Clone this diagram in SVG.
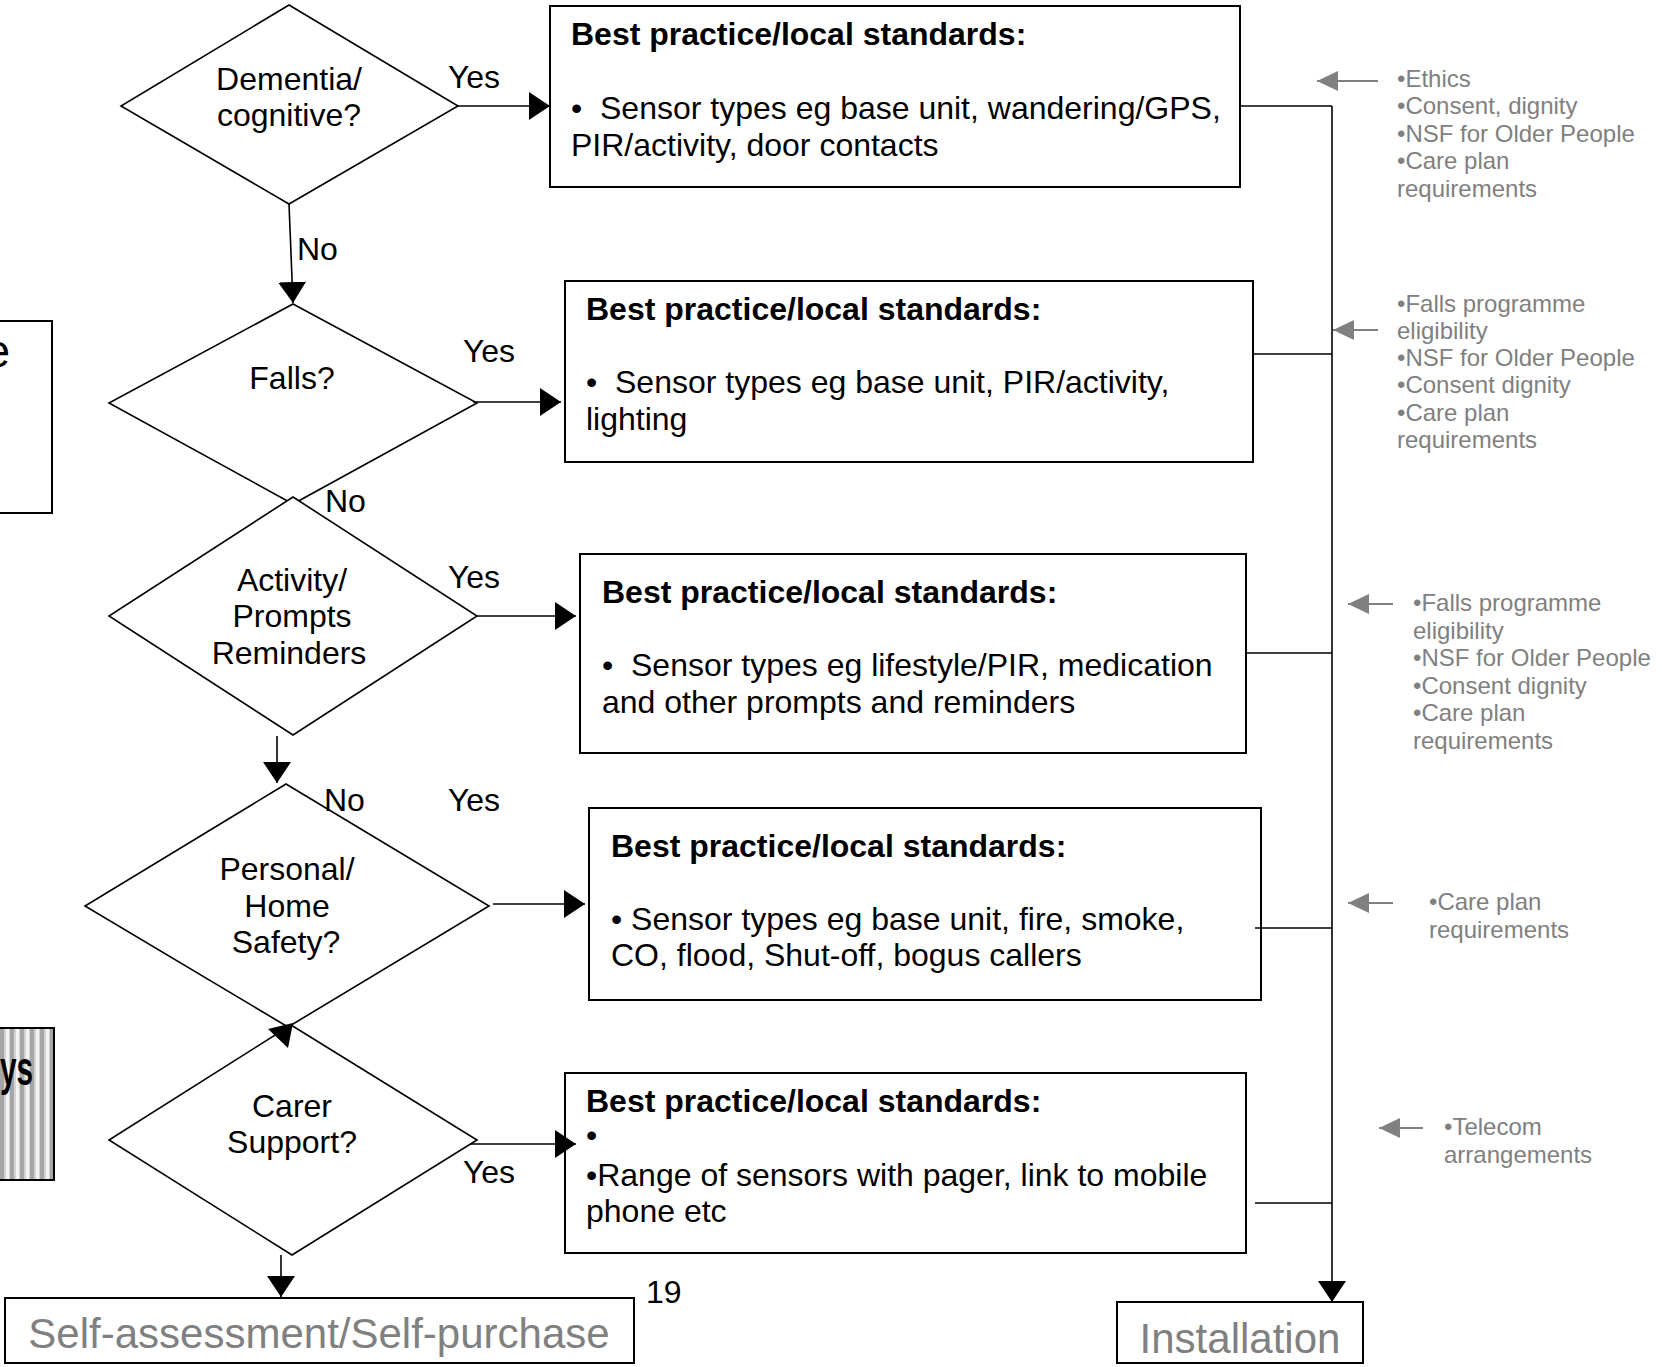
<svg xmlns="http://www.w3.org/2000/svg" width="1662" height="1367" viewBox="0 0 1662 1367">
<style>
text{font-family:"Liberation Sans",Arial,sans-serif;fill:#000}
.t{font-size:32px}
.b{font-size:32px;font-weight:bold}
.g{font-size:24px;fill:#808080}
.big{font-size:42px;fill:#808080}
.c{text-anchor:middle}
.box{fill:#fff;stroke:#000;stroke-width:2}
.dia{fill:#fff;stroke:#000;stroke-width:1.6}
.ln{fill:none;stroke:#000;stroke-width:1.6}
.gl{fill:none;stroke:#808080;stroke-width:2}
</style>
<defs>
<marker id="ah" markerUnits="userSpaceOnUse" markerWidth="21" markerHeight="28" refX="21" refY="14" orient="auto">
<path d="M0,0 L21,14 L0,28 Z" fill="#000"/>
</marker>
<marker id="gh" markerUnits="userSpaceOnUse" markerWidth="21" markerHeight="20" refX="21" refY="10" orient="auto">
<path d="M0,0 L21,10 L0,20 Z" fill="#808080"/>
</marker>
<pattern id="stripes" patternUnits="userSpaceOnUse" width="10" height="10">
<rect width="10" height="10" fill="#d4d4d4"/>
<rect x="0" width="4" height="10" fill="#a6a6a6"/>
<rect x="6" width="3" height="10" fill="#f4f4f4"/>
</pattern>
</defs>

<g id="left-partial-box">
<rect x="-3" y="321" width="55" height="192" class="box"/>
<text x="10" y="367" style="font-size:46px;text-anchor:end">e</text>
</g>

<g id="left-striped-box">
<rect x="-3" y="1028" width="57" height="152" fill="url(#stripes)" stroke="#000" stroke-width="2"/>
<text transform="translate(33,1085) scale(0.62,1)" style="font-size:48px;font-weight:bold;text-anchor:end">ys</text>
</g>

<g id="dementia">
<polygon class="dia" points="289,5 458,106 289,204 121,106"/>
<text class="t c" x="289" y="90">Dementia/</text>
<text class="t c" x="289" y="126">cognitive?</text>
</g>

<g id="falls">
<polygon class="dia" points="293,304 477,403 293,504 109,403"/>
<text class="t c" x="292" y="389">Falls?</text>
</g>

<g id="activity">
<polygon class="dia" points="293,497 477,616 293,735 109,616"/>
<text class="t c" x="292" y="591">Activity/</text>
<text class="t c" x="292" y="627">Prompts</text>
<text class="t c" x="289" y="664">Reminders</text>
</g>

<g id="personal">
<polygon class="dia" points="286,784 489,906 288,1027 85,906"/>
<text class="t c" x="287" y="880">Personal/</text>
<text class="t c" x="287" y="917">Home</text>
<text class="t c" x="286" y="953">Safety?</text>
</g>

<g id="carer">
<polygon class="dia" points="291,1025 477,1140 292,1255 109,1140"/>
<text class="t c" x="292" y="1117">Carer</text>
<text class="t c" x="292" y="1153">Support?</text>
</g>

<g id="box-dementia">
<rect class="box" x="550" y="6" width="690" height="181"/>
<text class="b" x="571" y="45">Best practice/local standards:</text>
<text class="t" x="571" y="119" xml:space="preserve">•  Sensor types eg base unit, wandering/GPS,</text>
<text class="t" x="571" y="156">PIR/activity, door contacts</text>
</g>

<g id="box-falls">
<rect class="box" x="565" y="281" width="688" height="181"/>
<text class="b" x="586" y="320">Best practice/local standards:</text>
<text class="t" x="586" y="393" xml:space="preserve">•  Sensor types eg base unit, PIR/activity,</text>
<text class="t" x="586" y="430">lighting</text>
</g>

<g id="box-activity">
<rect class="box" x="580" y="554" width="666" height="199"/>
<text class="b" x="602" y="603">Best practice/local standards:</text>
<text class="t" x="602" y="676" xml:space="preserve">•  Sensor types eg lifestyle/PIR, medication</text>
<text class="t" x="602" y="713">and other prompts and reminders</text>
</g>

<g id="box-personal">
<rect class="box" x="589" y="808" width="672" height="192"/>
<text class="b" x="611" y="857">Best practice/local standards:</text>
<text class="t" x="611" y="930">• Sensor types eg base unit, fire, smoke,</text>
<text class="t" x="611" y="966">CO, flood, Shut-off, bogus callers</text>
</g>

<g id="box-carer">
<rect class="box" x="565" y="1073" width="681" height="180"/>
<text class="b" x="586" y="1112">Best practice/local standards:</text>
<text class="t" x="586" y="1146">•</text>
<text class="t" x="586" y="1186">•Range of sensors with pager, link to mobile</text>
<text class="t" x="586" y="1222">phone etc</text>
</g>

<g id="self-assessment">
<rect class="box" x="5" y="1298" width="629" height="65"/>
<text class="big c" x="319" y="1348">Self-assessment/Self-purchase</text>
</g>

<g id="installation">
<rect class="box" x="1117" y="1302" width="246" height="61"/>
<text class="big c" x="1240" y="1353">Installation</text>
</g>

<g id="page-number">
<text class="t" x="646" y="1303">19</text>
</g>

<g id="notes">
<text class="g" x="1397" y="87">•Ethics</text>
<text class="g" x="1397" y="114">•Consent, dignity</text>
<text class="g" x="1397" y="141.5">•NSF for Older People</text>
<text class="g" x="1397" y="169">•Care plan</text>
<text class="g" x="1397" y="196.5">requirements</text>

<text class="g" x="1397" y="311.5">•Falls programme</text>
<text class="g" x="1397" y="338.5">eligibility</text>
<text class="g" x="1397" y="366">•NSF for Older People</text>
<text class="g" x="1397" y="393">•Consent dignity</text>
<text class="g" x="1397" y="420.5">•Care plan</text>
<text class="g" x="1397" y="448">requirements</text>

<text class="g" x="1413" y="611">•Falls programme</text>
<text class="g" x="1413" y="638.5">eligibility</text>
<text class="g" x="1413" y="666">•NSF for Older People</text>
<text class="g" x="1413" y="693.5">•Consent dignity</text>
<text class="g" x="1413" y="721">•Care plan</text>
<text class="g" x="1413" y="748.5">requirements</text>

<text class="g" x="1429" y="910">•Care plan</text>
<text class="g" x="1429" y="937.5">requirements</text>

<text class="g" x="1444" y="1135">•Telecom</text>
<text class="g" x="1444" y="1163">arrangements</text>
</g>

<g id="connectors">
<path class="ln" d="M458,106 L550,106" marker-end="url(#ah)"/>
<path class="ln" d="M289,204 L293,303" marker-end="url(#ah)"/>
<path class="ln" d="M473,402 L561,402" marker-end="url(#ah)"/>
<path class="ln" d="M477,616 L576,616" marker-end="url(#ah)"/>
<path class="ln" d="M277,736 L277,783" marker-end="url(#ah)"/>
<path class="ln" d="M493,904 L585,904" marker-end="url(#ah)"/>
<polygon points="268,1029 293,1023 288,1048" fill="#000"/>
<path class="ln" d="M471,1144 L576,1144" marker-end="url(#ah)"/>
<path class="ln" d="M281,1255 L281,1297" marker-end="url(#ah)"/>

<path class="ln" d="M1240,106 H1332"/>
<path class="ln" d="M1254,354 H1332"/>
<path class="ln" d="M1246,653 H1332"/>
<path class="ln" d="M1255,928 H1332"/>
<path class="ln" d="M1255,1203 H1332"/>
<path class="ln" d="M1332,106 V1302" marker-end="url(#ah)"/>

<path class="gl" d="M1378,81 L1317,81" marker-end="url(#gh)"/>
<path class="gl" d="M1378,330 L1333,330" marker-end="url(#gh)"/>
<path class="gl" d="M1393,604 L1348,604" marker-end="url(#gh)"/>
<path class="gl" d="M1393,903 L1348,903" marker-end="url(#gh)"/>
<path class="gl" d="M1423,1128 L1379,1128" marker-end="url(#gh)"/>

<text class="t c" x="474" y="88">Yes</text>
<text class="t" x="297" y="260">No</text>
<text class="t c" x="489" y="362">Yes</text>
<text class="t" x="325" y="512">No</text>
<text class="t c" x="474" y="588">Yes</text>
<text class="t" x="324" y="811">No</text>
<text class="t c" x="474" y="811">Yes</text>
<text class="t c" x="489" y="1183">Yes</text>
</g>
</svg>
